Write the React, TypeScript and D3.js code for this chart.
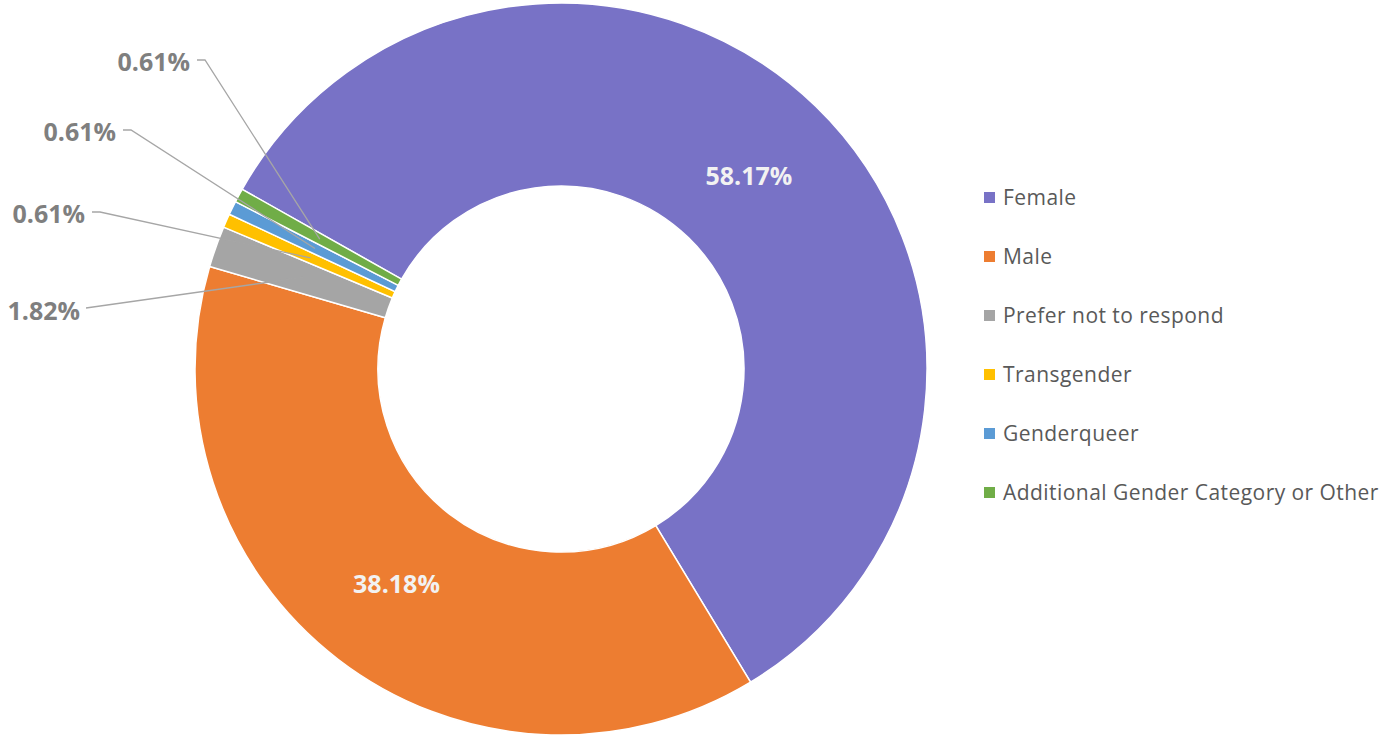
import { useMemo } from "react";
import * as d3 from "d3";

const categories = [
  "Female",
  "Male",
  "Prefer not to respond",
  "Transgender",
  "Genderqueer",
  "Additional Gender Category or Other",
];
const values = [58.17, 38.18, 1.82, 0.61, 0.61, 0.61];
const colors = ["#7872C6", "#ED7D31", "#A5A5A5", "#FFC000", "#5B9BD5", "#70AD47"];

// outside labels for the thin slices: [text right edge, text middle y]
const outsideLabels: Record<number, [number, number]> = {
  2: [80, 310],
  3: [85, 213],
  4: [116, 131],
  5: [190, 61],
};

const W = 1392;
const H = 737;
const cx = 561;
const cy = 369;
const outerR = 366;
const innerR = 183;
const startDeg = -60.6;

export default function App() {
  const arcs = useMemo(() => {
    const pie = d3
      .pie<number>()
      .sort(null)
      .startAngle((startDeg * Math.PI) / 180)
      .endAngle(((startDeg + 360) * Math.PI) / 180);
    return pie(values);
  }, []);

  const arc = d3.arc<d3.PieArcDatum<number>>().innerRadius(innerR).outerRadius(outerR);
  const labelArc = d3.arc<d3.PieArcDatum<number>>().innerRadius(180).outerRadius(360);
  const anchorArc = d3.arc<d3.PieArcDatum<number>>().innerRadius(290).outerRadius(258);

  return (
    <div style={{ position: "fixed", left: 0, top: 0, background: "#fff" }}>
      <svg width={W} height={H} style={{ display: "block" }} fontFamily="'Open Sans', 'Noto Sans', sans-serif">
        <g transform={`translate(${cx},${cy})`}>
          {arcs.map((a, i) => (
            <path key={i} d={arc(a) || ""} fill={colors[i]} stroke="#fff" strokeWidth={1.5} />
          ))}
        </g>

        {/* inside labels */}
        {arcs.slice(0, 2).map((a, i) => {
          const [x, y] = labelArc.centroid(a);
          return (
            <text
              key={i}
              x={cx + x}
              y={cy + y}
              textAnchor="middle"
              dominantBaseline="central"
              fontSize={25}
              fontWeight="bold"
              fill="#F2F2F2"
            >
              {values[i].toFixed(2)}%
            </text>
          );
        })}

        {/* outside labels with leader lines */}
        {Object.entries(outsideLabels).map(([k, [tx, ty]]) => {
          const i = +k;
          const [ax, ay] = anchorArc.centroid(arcs[i]);
          const pts: [number, number][] =
            i === 2
              ? [[tx + 6, ty - 2], [cx + ax, cy + ay]]
              : [[tx + 7, ty - 1], [tx + 15, ty - 1], [cx + ax, cy + ay]];
          return (
            <g key={i}>
              <path d={d3.line()(pts) || ""} fill="none" stroke="#A6A6A6" strokeWidth={1.3} />
              <text
                x={tx}
                y={ty}
                textAnchor="end"
                dominantBaseline="central"
                fontSize={25}
                fontWeight="bold"
                fill="#7F7F7F"
              >
                {values[i].toFixed(2)}%
              </text>
            </g>
          );
        })}

        {/* legend */}
        {categories.map((c, i) => {
          const y = 197 + i * 59;
          return (
            <g key={c}>
              <rect x={984} y={y - 5} width={11} height={11} fill={colors[i]} />
              <text
                x={1003}
                y={y}
                dominantBaseline="central"
                fontSize={21}
                letterSpacing={0.45}
                fill="#595959"
              >
                {c}
              </text>
            </g>
          );
        })}
      </svg>
    </div>
  );
}
